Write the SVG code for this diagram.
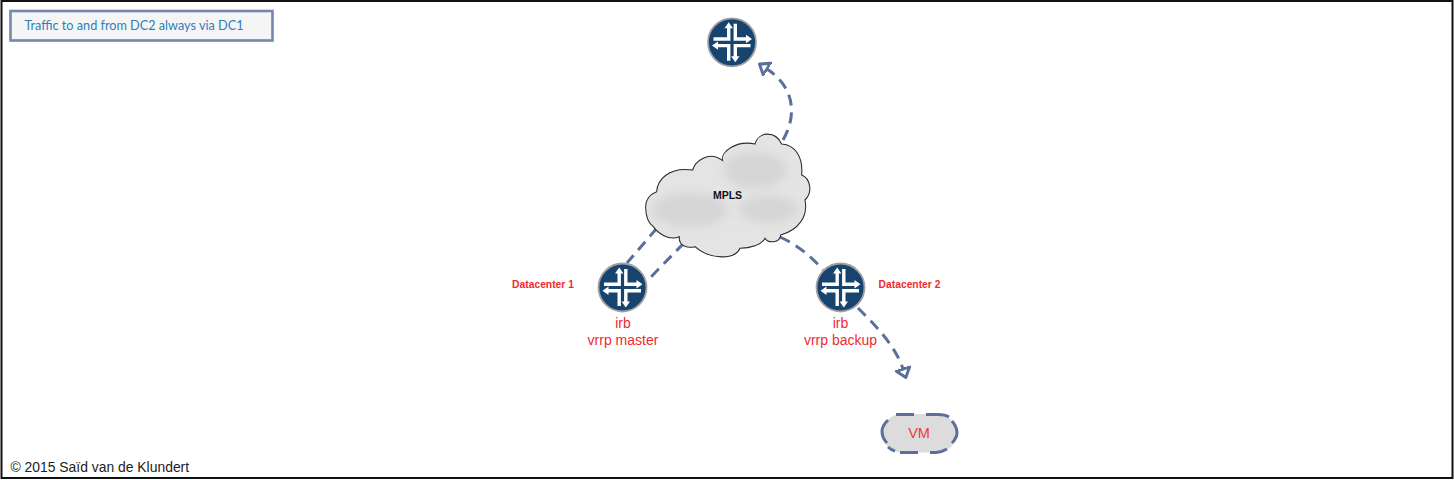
<svg xmlns="http://www.w3.org/2000/svg" width="1454" height="480" viewBox="0 0 1454 480">
<style>
.conn{fill:none;stroke:#5a6f9c;stroke-width:3;stroke-dasharray:11 7}
.rt{font-family:"Liberation Sans",Arial,sans-serif;fill:#f02a2e;text-anchor:middle}
.lab{font-size:14px}
.dc{font-size:10.3px;font-weight:bold}
.ico{fill:#fff}
</style>
<defs>
<marker id="tri" markerUnits="userSpaceOnUse" markerWidth="20" markerHeight="20" refX="1" refY="10" orient="auto" viewBox="0 0 20 20"><path d="M1 3L10 10L1 17Z" fill="#fff" stroke="#5a6f9c" stroke-width="3" stroke-linejoin="round"/></marker>
<filter id="bl" x="-40%" y="-40%" width="180%" height="180%"><feGaussianBlur stdDeviation="14"/></filter>
<g id="router">
<circle r="24" fill="#17446f" stroke="#a0a0a0" stroke-width="1.800"/>
<path class="ico" d="M-5-14H-7.500L-3.300-20L.9-14H-1.600V-1.600H-18.500V-5H-5Z"/>
<path class="ico" d="M1.600-18.500H5V-5H14V-7.500L20-3.300L14 .9V-1.600H1.600Z"/>
<path class="ico" d="M-1.600 18.500H-5V5H-14V7.500L-20 3.300L-14-.9V1.600H-1.600Z"/>
<path class="ico" d="M5 14H7.500L3.300 20L-.9 14H1.600V1.600H18.500V5H5Z"/>
</g>
</defs>
<rect id="frame" x="1.500" y="1" width="1451" height="477" fill="#fff" stroke="#111" stroke-width="2"/>
<g id="connectors">
<path class="conn" d="M783 140C800 110 790 84 767 69" marker-end="url(#tri)"/>
<path class="conn" d="M657 228L627 263"/>
<path class="conn" d="M684 243L647 281"/>
<path class="conn" d="M780 237Q804 248 823 270"/>
<path class="conn" d="M858 308C875 325 895 345 903 369" marker-end="url(#tri)"/>
</g>
<g id="note">
<rect x="10.500" y="11" width="262" height="29.500" fill="#f5f5f5" stroke="#7388ab" stroke-width="2.600"/>
<text x="24.500" y="30" font-family="Lato,'Open Sans',sans-serif" font-size="13" fill="#2a7fc0" textLength="219" lengthAdjust="spacingAndGlyphs">Traffic to and from DC2 always via DC1</text>
</g>
<g id="cloud">
<g transform="translate(640 120) scale(.33333)">
<path id="cloudShape" fill="#e4e4e4" stroke="#2a2a2a" stroke-width="3.200" d="M17 265C15 240 30 222 50 215C52 180 85 140 158 150C165 125 205 90 248 122C240 95 290 60 345 72C355 35 405 30 425 72C465 75 490 110 485 165C510 175 520 215 495 240C505 290 475 330 422 345C420 370 385 370 375 355C365 375 330 385 300 385C285 420 210 420 165 380C145 385 115 380 118 350C85 365 50 335 40 320C25 310 18 290 17 265Z"/>
<g fill="#d6d6d6" filter="url(#bl)">
<ellipse cx="150" cy="270" rx="115" ry="52"/>
<ellipse cx="385" cy="268" rx="90" ry="42"/>
<ellipse cx="345" cy="150" rx="95" ry="55"/>
</g>
</g>
<text x="727.500" y="198.500" font-family="'Liberation Sans',Arial,sans-serif" font-size="10.500" font-weight="bold" fill="#111" text-anchor="middle">MPLS</text>
</g>
<g id="router-top"><use href="#router" transform="translate(732 42.300)"/></g>
<g id="router-dc1">
<use href="#router" transform="translate(622.500 287.500)"/>
<text class="rt lab" x="623" y="328">irb</text>
<text class="rt lab" x="623" y="345">vrrp master</text>
<text class="rt dc" x="543" y="288">Datacenter 1</text>
</g>
<g id="router-dc2">
<use href="#router" transform="translate(840.500 287.500)"/>
<text class="rt lab" x="840.500" y="328">irb</text>
<text class="rt lab" x="840.500" y="345">vrrp backup</text>
<text class="rt dc" x="909.500" y="288">Datacenter 2</text>
</g>
<g id="vm">
<rect x="882.500" y="414" width="74" height="38.500" rx="19" fill="#dcdcdc"/>
<path fill="none" stroke="#5a6f9c" stroke-width="3" d="M896 414.500H914M926 414.500H938Q945 414.500 949 417M952 421Q957 427 957 432.500Q957 438 952 443M947 449Q942 452 936 452.500H930M918 452.500H900M895 451Q891 450 888 447M887 443Q882 438 882 431Q882 426 888 420"/>
<text class="rt" style="font-size:14.5px;fill:#ec3a44" x="919" y="437.500">VM</text>
</g>
<g id="copyright"><text x="10.500" y="472" font-family="'Liberation Sans',Arial,sans-serif" font-size="13.900" fill="#222">© 2015 Saïd van de Klundert</text></g>
</svg>
